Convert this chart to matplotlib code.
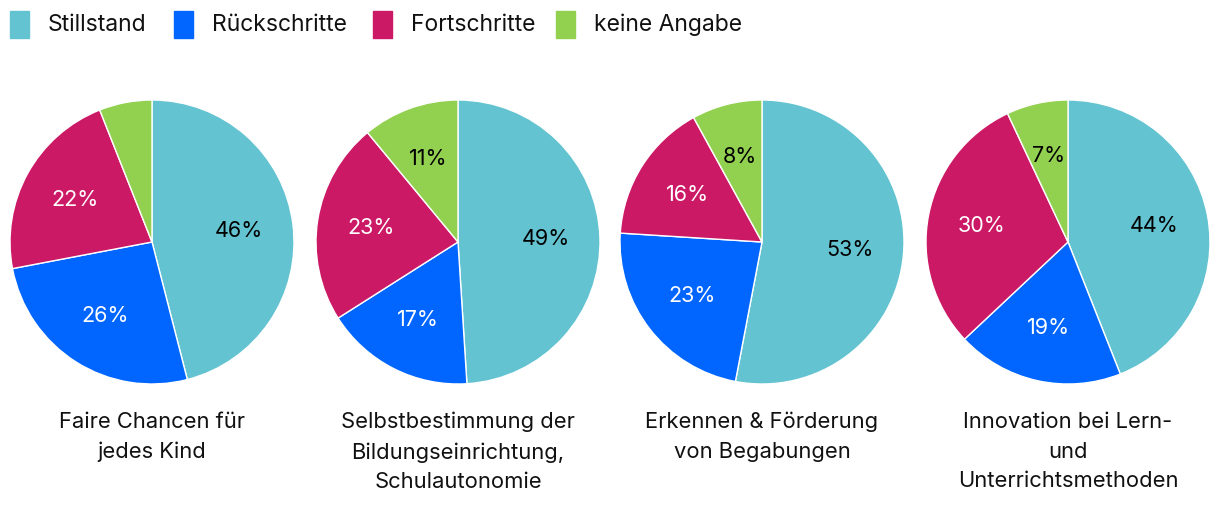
import numpy as np
import matplotlib.pyplot as plt
from matplotlib.patches import Rectangle

categories = ["Stillstand", "Rückschritte", "Fortschritte", "keine Angabe"]
colors = ["#63C3D1", "#0066FF", "#CC1966", "#92D050"]
titles = ["Faire Chancen für\njedes Kind",
          "Selbstbestimmung der\nBildungseinrichtung,\nSchulautonomie",
          "Erkennen & Förderung\nvon Begabungen",
          "Innovation bei Lern-\nund\nUnterrichtsmethoden"]
values = [
    [46, 26, 22, 6],
    [49, 17, 23, 11],
    [53, 23, 16, 8],
    [44, 19, 30, 7],
]
label_colors = ["black", "white", "white", "black"]

plt.rcParams['font.family'] = ['Inter', 'DejaVu Sans']

W, H = 1220, 524
fig = plt.figure(figsize=(W / 100, H / 100), dpi=100)

centers_x = [152, 458, 762, 1068]
cy = 242
r = 142

for i, (cx, vals, title) in enumerate(zip(centers_x, values, titles)):
    ax = fig.add_axes([(cx - r) / W, (H - cy - r) / H, 2 * r / W, 2 * r / H])
    ax.pie(vals, colors=colors, startangle=90, counterclock=False,
           radius=1, wedgeprops=dict(edgecolor="white", linewidth=1))
    total = sum(vals)
    ang = 90.0
    for v, lc in zip(vals, label_colors):
        theta = ang - v / total * 360 / 2
        ang -= v / total * 360
        if v < 7:
            continue
        d = 0.62
        x = d * np.cos(np.radians(theta))
        y = d * np.sin(np.radians(theta))
        ax.text(x, y, f"{v}%", ha="center", va="center", color=lc, fontsize=15.5)
    ax.set_xlim(-1, 1)
    ax.set_ylim(-1, 1)
    ax.set_aspect("equal")
    ax.axis("off")
    fig.text(cx / W, (H - 412) / H, title, ha="center", va="top",
             fontsize=15.8, linespacing=1.6, color="#111111")

# legend
lx = [10, 174, 373, 556]
for x0, cat, col in zip(lx, categories, colors):
    fig.patches.append(Rectangle((x0 / W, (H - 38) / H), 19 / W, 27 / H,
                                 transform=fig.transFigure, color=col))
    fig.text((x0 + 38) / W, (H - 25) / H, cat, ha="left", va="center",
             fontsize=16.5, color="#111111")

fig.savefig("out.png", dpi=100, facecolor="white")
